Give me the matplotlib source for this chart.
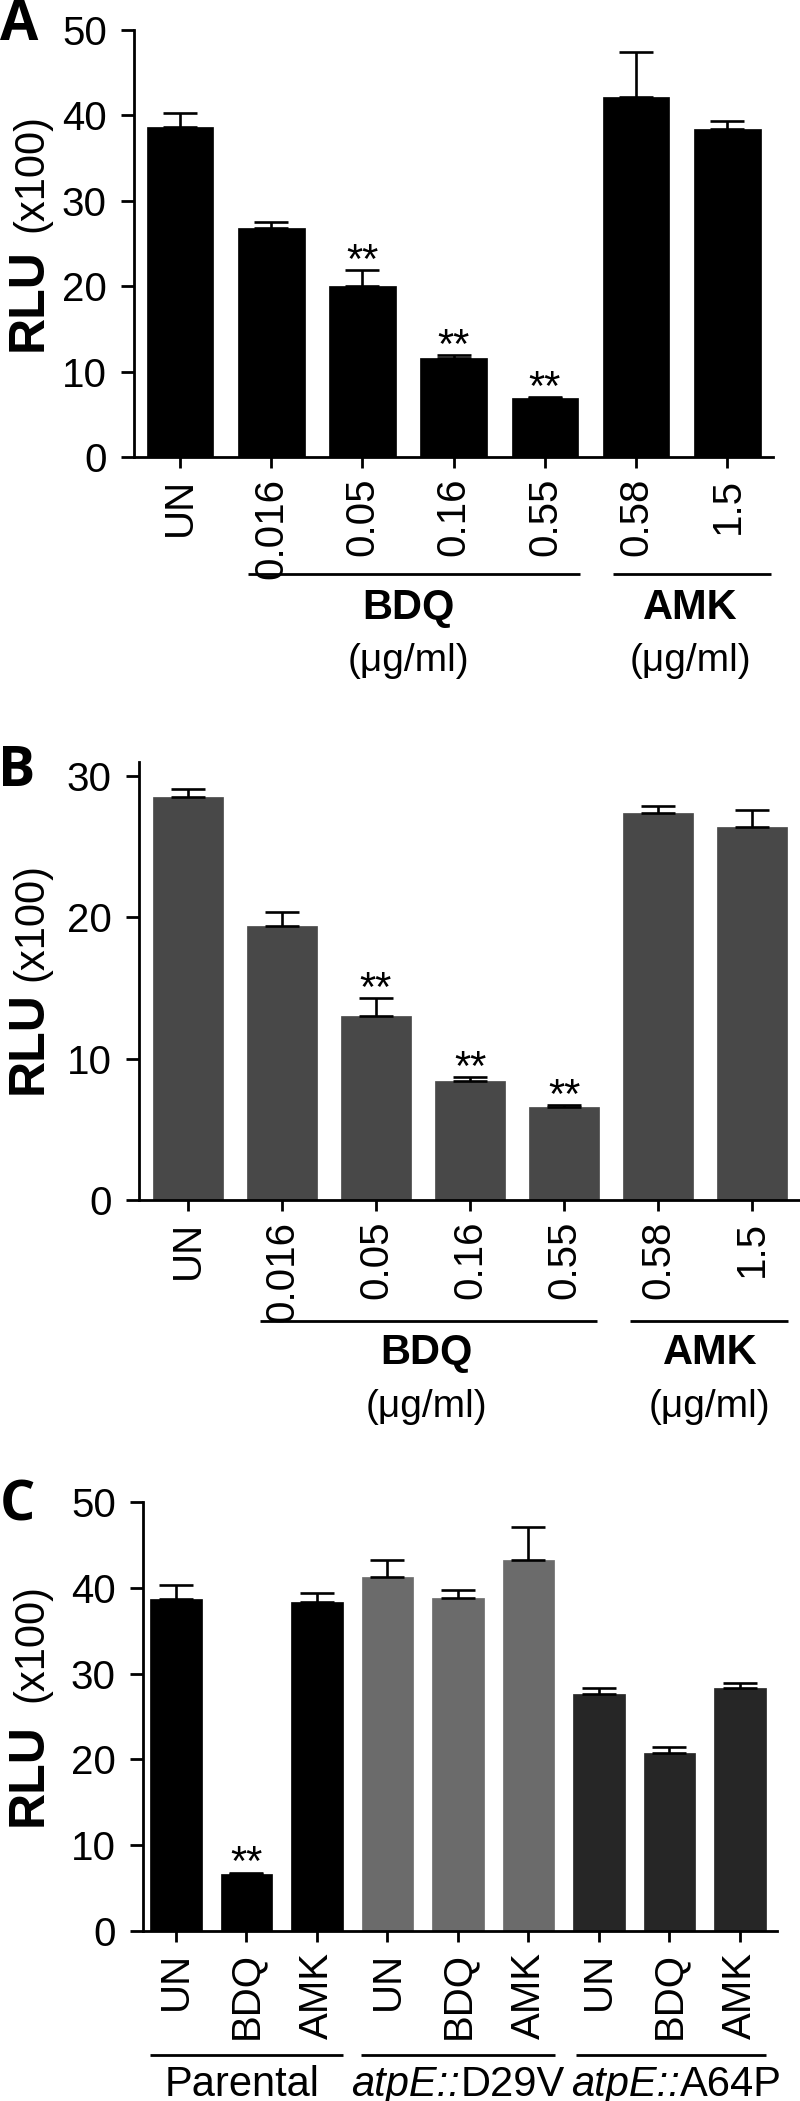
import matplotlib
matplotlib.use("Agg")
import matplotlib.pyplot as plt
import numpy as np
from matplotlib.offsetbox import TextArea, HPacker, AnnotationBbox
import matplotlib.transforms as mtransforms
from matplotlib import font_manager

plt.rcParams['font.family'] = ['Liberation Sans', 'DejaVu Sans']

_names = {f.name for f in font_manager.fontManager.ttflist}
NARROW = ['Liberation Sans Narrow', 'Liberation Sans'] if 'Liberation Sans Narrow' in _names else ['Liberation Sans']

# ---------------- data ----------------
a_labels = ["UN", "0.016", "0.05", "0.16", "0.55", "0.58", "1.5"]
a_means = [38.6, 26.8, 20.0, 11.6, 6.9, 42.2, 38.4]
a_errs = [1.7, 0.7, 1.9, 0.3, 0.1, 5.2, 0.9]
a_stars = [2, 3, 4]

b_labels = ["UN", "0.016", "0.05", "0.16", "0.55", "0.58", "1.5"]
b_means = [28.5, 19.4, 13.0, 8.4, 6.6, 27.4, 26.4]
b_errs = [0.6, 1.0, 1.3, 0.3, 0.1, 0.5, 1.2]
b_stars = [2, 3, 4]

c_labels = ["UN", "BDQ", "AMK", "UN", "BDQ", "AMK", "UN", "BDQ", "AMK"]
c_means = [38.7, 6.7, 38.4, 41.3, 38.8, 43.2, 27.6, 20.7, 28.3]
c_errs = [1.6, 0.1, 1.0, 1.9, 0.9, 3.9, 0.7, 0.7, 0.6]
c_stars = [1]
c_groups = ["Parental", "D29V", "A64P"]

# ---------------- layout ----------------
W, H = 800, 2101
fig = plt.figure(figsize=(W / 100, H / 100), dpi=100)

TICK_FS = 29
LW = 2.0


def add_axes_px(left, right, top, bottom):
    return fig.add_axes([left / W, 1 - bottom / H, (right - left) / W, (bottom - top) / H])


def ax_y(top, bottom, ypx):
    return (bottom - ypx) / (bottom - top)


def style(ax, ylim, yticks, xlim):
    for s in ["top", "right"]:
        ax.spines[s].set_visible(False)
    for s in ["left", "bottom"]:
        ax.spines[s].set_linewidth(LW)
    ax.set_ylim(*ylim)
    ax.set_xlim(*xlim)
    ax.set_yticks(yticks)
    ax.tick_params(axis='y', direction='out', length=9.5, width=LW, pad=10)
    ax.tick_params(axis='x', direction='out', length=8, width=LW, pad=7)


def fix_ticklabels(ax):
    for t in ax.get_yticklabels() + ax.get_xticklabels():
        t.set_family(NARROW)
        t.set_fontsize(TICK_FS)


def bars(ax, means, errs, colors, width, stars):
    x = np.arange(len(means))
    ax.bar(x, means, width=width, color=colors, edgecolor=colors, linewidth=0.5, zorder=2)
    ax.errorbar(x, means, yerr=[np.zeros(len(errs)), errs], fmt='none', ecolor='black',
                elinewidth=1.9, capsize=12, capthick=1.9, zorder=3)
    for i in stars:
        ax.annotate("**", (x[i], means[i] + errs[i]), xytext=(0, -2), textcoords='offset points',
                    ha='center', va='baseline', fontsize=30)
    return x


def ylabel(rlu_xy, x100_xy):
    fig.text(rlu_xy[0] / W, 1 - rlu_xy[1] / H, "RLU", rotation=90, ha='center', va='center',
             fontsize=36, fontweight='bold', family=NARROW)
    fig.text(x100_xy[0] / W, 1 - x100_xy[1] / H, "(x100)", rotation=90, ha='center', va='center',
             fontsize=30)


def panel_letter(xy, s):
    fig.text(xy[0] / W, 1 - xy[1] / H, s, ha='center', va='center', fontsize=40,
             fontweight='bold', family=['Open Sans', 'DejaVu Sans'])


def bracket(ax, x0, x1, yax):
    trans = mtransforms.blended_transform_factory(ax.transData, ax.transAxes)
    ax.plot([x0, x1], [yax, yax], color='black', lw=LW, transform=trans, clip_on=False,
            solid_capstyle='butt')


def btext(ax, x, yax, s, **kw):
    trans = mtransforms.blended_transform_factory(ax.transData, ax.transAxes)
    ax.text(x, yax, s, transform=trans, ha='center', va='center', clip_on=False, **kw)


def drug_labels(ax, top, bottom, yb, yt, yu, bdq, amk):
    bracket(ax, bdq[0], bdq[1], ax_y(top, bottom, yb))
    bracket(ax, amk[0], amk[1], ax_y(top, bottom, yb))
    for xc, name in [(bdq[2], "BDQ"), (amk[2], "AMK")]:
        btext(ax, xc, ax_y(top, bottom, yt), name, fontsize=30, fontweight='bold', family=NARROW)
        btext(ax, xc, ax_y(top, bottom, yu), "(μg/ml)", fontsize=28, family=NARROW)


# ---------------- Panel A ----------------
A_T, A_B = 30, 457
axA = add_axes_px(134, 773, A_T, A_B)
style(axA, (0, 50), [0, 10, 20, 30, 40, 50], (-0.504, 6.5))
xa = bars(axA, a_means, a_errs, ['black'] * 7, 0.73, a_stars)
axA.set_xticks(xa)
axA.set_xticklabels(a_labels, rotation=90, va='top', ha='center')
fix_ticklabels(axA)
drug_labels(axA, A_T, A_B, 574, 608, 661, (0.745, 4.39, 2.5), (4.75, 6.48, 5.59))
ylabel((29, 300), (31, 173))
panel_letter((19, 26), "A")

# ---------------- Panel B ----------------
B_T, B_B = 762, 1200
axB = add_axes_px(139, 801, B_T, B_B)
style(axB, (0, 31), [0, 10, 20, 30], (-0.52, 6.52))
xb = bars(axB, b_means, b_errs, ['#484848'] * 7, 0.74, b_stars)
axB.set_xticks(xb)
axB.set_xticklabels(b_labels, rotation=90, va='top', ha='center')
fix_ticklabels(axB)
drug_labels(axB, B_T, B_B, 1321, 1353, 1407, (0.766, 4.35, 2.54), (4.70, 6.38, 5.55))
ylabel((29, 1043), (31, 922))
panel_letter((17, 772), "B")

# ---------------- Panel C ----------------
C_T, C_B = 1502, 1931
axC = add_axes_px(143, 777, C_T, C_B)
style(axC, (0, 50), [0, 10, 20, 30, 40, 50], (-0.468, 8.525))
c_colors = ['black'] * 3 + ['#6b6b6b'] * 3 + ['#262626'] * 3
xc = bars(axC, c_means, c_errs, c_colors, 0.73, c_stars)
axC.set_xticks(xc)
axC.set_xticklabels(c_labels, rotation=90, va='top', ha='center')
fix_ticklabels(axC)
yb = ax_y(C_T, C_B, 2055)
bracket(axC, -0.37, 2.37, yb)
bracket(axC, 2.62, 5.38, yb)
bracket(axC, 5.67, 8.37, yb)
ygl = ax_y(C_T, C_B, 2085)
btext(axC, 0.94, ygl, c_groups[0], fontsize=30, family=NARROW)
trans_c = mtransforms.blended_transform_factory(axC.transData, axC.transAxes)
for xg, g in zip([4.0, 7.1], c_groups[1:]):
    box = HPacker(children=[TextArea("atpE::", textprops=dict(fontsize=30, style='italic', family=NARROW)),
                            TextArea(g, textprops=dict(fontsize=30, family=NARROW))],
                  align='baseline', pad=0, sep=0)
    ab = AnnotationBbox(box, (xg, ygl), xycoords=trans_c, box_alignment=(0.5, 0.5),
                        frameon=False, annotation_clip=False)
    axC.add_artist(ab)
ylabel((29, 1775), (31, 1643))
panel_letter((17, 1506), "C")

fig.savefig("out.png", dpi=100)
